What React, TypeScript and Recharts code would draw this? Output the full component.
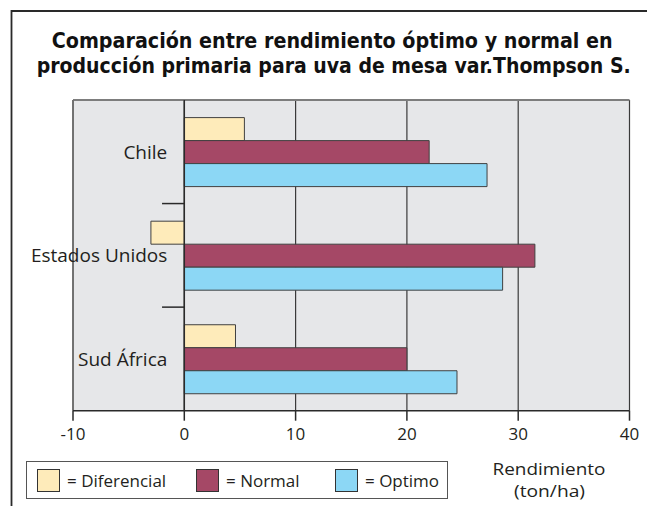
import React from 'react';
import {
  BarChart, Bar, XAxis, YAxis, CartesianGrid, ReferenceLine, ReferenceArea, LabelList, Legend,
} from 'recharts';

const countries = ['Chile', 'Estados Unidos', 'Sud África'];
const diferencial = [5.4, -3.0, 4.6];
const normal = [22.0, 31.5, 20.0];
const optimo = [27.2, 28.6, 24.5];
const xTicks = [-10, 0, 10, 20, 30, 40];
const seriesNames = ['Diferencial', 'Normal', 'Optimo'];
const seriesColors = ['#FEEBBA', '#A54866', '#8CD7F5'];
const titleLines = [
  'Comparación entre rendimiento óptimo y normal en',
  'producción primaria para uva de mesa var.Thompson S.',
];
const axisTitle = ['Rendimiento', '(ton/ha)'];

const data = countries.map((c, i) => ({
  country: c,
  diferencial: diferencial[i],
  normal: normal[i],
  optimo: optimo[i],
}));

const FONT = "'Open Sans', 'Noto Sans', sans-serif";
const INK = '#231F20';
const legendItemWidths = [159, 139, 110];

const renderLegend = (props: any) => {
  const payload = props.payload || [];
  return (
    <div
      style={{
        boxSizing: 'border-box',
        width: '100%',
        height: '100%',
        border: '1px solid #555',
        background: '#fff',
        display: 'flex',
        alignItems: 'center',
        paddingLeft: 10,
        fontFamily: FONT,
        fontSize: 17,
        color: INK,
      }}
    >
      {payload.map((p: any, i: number) => (
        <div key={i} style={{ display: 'flex', alignItems: 'center', width: legendItemWidths[i] }}>
          <span
            style={{
              display: 'inline-block',
              boxSizing: 'border-box',
              width: 23,
              height: 23,
              background: p.color || seriesColors[i],
              border: '1px solid #333',
              marginRight: 7,
            }}
          />
          <span style={{ whiteSpace: 'nowrap' }}>= {p.value}</span>
        </div>
      ))}
    </div>
  );
};

// draws horizontal tick marks at the top and bottom edges of a category band
const BoundaryShape = (p: any) => (
  <g>
    <line x1={p.x} y1={p.y} x2={p.x + p.width} y2={p.y} stroke="#2a2a2a" strokeWidth={1.5} />
    <line x1={p.x} y1={p.y + p.height} x2={p.x + p.width} y2={p.y + p.height} stroke="#2a2a2a" strokeWidth={1.5} />
  </g>
);

// draws the top and left border of the plot frame
const FrameShape = (p: any) => (
  <g>
    <line x1={p.x} y1={p.y} x2={p.x + p.width} y2={p.y} stroke="#7d7d7d" strokeWidth={2} />
    <line x1={p.x} y1={p.y} x2={p.x} y2={p.y + p.height} stroke="#6d6d6d" strokeWidth={1.5} />
  </g>
);

export default function App() {
  return (
    <div style={{ position: 'absolute', left: 0, top: 0, width: 647, height: 506, background: '#fff' }}>
      <BarChart
        width={647}
        height={506}
        data={data}
        layout="vertical"
        margin={{ top: 100, right: 17.5, bottom: 65.3, left: 73 }}
        barGap={0}
        barCategoryGap="17%"
      >
        <CartesianGrid horizontal={false} vertical stroke="#3a3a3a" strokeWidth={1.2} fill="#E6E7E9" fillOpacity={1} />
        <XAxis
          type="number"
          domain={[-10, 40]}
          ticks={xTicks}
          allowDataOverflow
          height={30}
          tickSize={10}
          tickMargin={7}
          axisLine={{ stroke: '#2a2a2a', strokeWidth: 1.5 }}
          tickLine={{ stroke: '#2a2a2a', strokeWidth: 1.5 }}
          tick={{ fill: INK, fontSize: 17, fontFamily: FONT }}
        />
        <YAxis type="category" dataKey="country" hide />
        <ReferenceArea
          x1={xTicks[0]}
          x2={xTicks[xTicks.length - 1]}
          y1={countries[0]}
          y2={countries[countries.length - 1]}
          shape={FrameShape}
        />
        <ReferenceArea
          x1={-2}
          x2={0}
          y1={countries[1]}
          y2={countries[1]}
          shape={BoundaryShape}
        />
        <Legend
          layout="horizontal"
          verticalAlign="middle"
          align="center"
          content={renderLegend}
          wrapperStyle={{ position: 'absolute', left: 26, top: 461, width: 422, height: 38 }}
        />
        <Bar
          dataKey="diferencial"
          name={seriesNames[0]}
          fill={seriesColors[0]}
          stroke="#404040"
          strokeWidth={1}
          isAnimationActive={false}
        />
        <Bar
          dataKey="normal"
          name={seriesNames[1]}
          fill={seriesColors[1]}
          stroke="#404040"
          strokeWidth={1}
          isAnimationActive={false}
        >
          <LabelList
            dataKey="country"
            position="left"
            offset={17}
            fill={INK}
            style={{ fontSize: 19, fontFamily: FONT, fill: INK }}
          />
        </Bar>
        <Bar
          dataKey="optimo"
          name={seriesNames[2]}
          fill={seriesColors[2]}
          stroke="#404040"
          strokeWidth={1}
          isAnimationActive={false}
        />
        <ReferenceLine x={0} stroke="#2a2a2a" strokeWidth={1.5} />
      </BarChart>
      <svg
        width={647}
        height={506}
        style={{ position: 'absolute', left: 0, top: 0, pointerEvents: 'none' }}
      >
        <line x1={11.5} y1={11} x2={647} y2={11} stroke="#2a2a2a" strokeWidth={1.8} />
        <line x1={11.5} y1={10.1} x2={11.5} y2={506} stroke="#2a2a2a" strokeWidth={1.8} />
        <text
          x={51.7}
          y={47.7}
          textLength={561}
          lengthAdjust="spacingAndGlyphs"
          fontFamily="'DejaVu Sans Condensed', 'Liberation Sans Narrow', 'DejaVu Sans', sans-serif"
          fontWeight="bold"
          fontSize={21}
          fill="#111"
        >
          {titleLines[0]}
        </text>
        <text
          x={36.7}
          y={72.7}
          textLength={594}
          lengthAdjust="spacingAndGlyphs"
          fontFamily="'DejaVu Sans Condensed', 'Liberation Sans Narrow', 'DejaVu Sans', sans-serif"
          fontWeight="bold"
          fontSize={21}
          fill="#111"
        >
          {titleLines[1]}
        </text>
        <text
          x={492.5}
          y={474.5}
          textLength={113}
          lengthAdjust="spacingAndGlyphs"
          fontFamily={FONT}
          fontSize={16.5}
          fill={INK}
        >
          {axisTitle[0]}
        </text>
        <text
          x={514}
          y={496.5}
          textLength={71}
          lengthAdjust="spacingAndGlyphs"
          fontFamily={FONT}
          fontSize={16.5}
          fill={INK}
        >
          {axisTitle[1]}
        </text>
      </svg>
    </div>
  );
}
